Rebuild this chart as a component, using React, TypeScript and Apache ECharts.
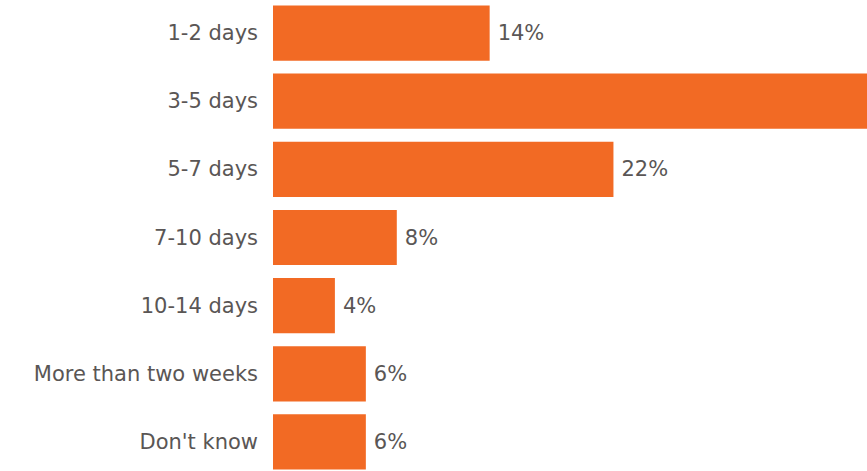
import React, { useEffect, useRef } from "react";
import * as echarts from "echarts";

const categories = [
  "1-2 days",
  "3-5 days",
  "5-7 days",
  "7-10 days",
  "10-14 days",
  "More than two weeks",
  "Don't know",
];
const values = [14, 40, 22, 8, 4, 6, 6];
// values whose bar runs past the visible page edge have no visible label in the reference
const visibleMax = 38;

export default function App() {
  const ref = useRef<HTMLDivElement>(null);
  useEffect(() => {
    if (!ref.current) return;
    const chart = echarts.init(ref.current, null, { renderer: "svg" });
    chart.setOption({
      animation: false,
      backgroundColor: "#ffffff",
      grid: {
        left: 273,
        top: -1,
        width: 619,
        height: 477,
        containLabel: false,
        outerBoundsMode: "none",
      },
      xAxis: {
        type: "value",
        min: 0,
        max: 40,
        show: false,
        splitLine: { show: false },
      },
      yAxis: {
        type: "category",
        data: categories,
        inverse: true,
        axisLine: { show: false },
        axisTick: { show: false },
        splitLine: { show: false },
        axisLabel: {
          margin: 15,
          color: "#5a5655",
          fontFamily: "DejaVu Sans",
          fontSize: 21,
        },
      },
      series: [
        {
          type: "bar",
          data: values.map((v) => ({
            value: v,
            label: { show: v < visibleMax },
          })),
          barCategoryGap: "19%",
          itemStyle: { color: "#F26A24" },
          label: {
            show: true,
            position: "right",
            distance: 8,
            formatter: "{c}%",
            color: "#5a5655",
            fontFamily: "DejaVu Sans",
            fontSize: 21,
          },
        },
      ],
    });
    return () => chart.dispose();
  }, []);
  return (
    <div
      ref={ref}
      style={{ position: "fixed", left: 0, top: 0, width: 867, height: 471 }}
    />
  );
}
